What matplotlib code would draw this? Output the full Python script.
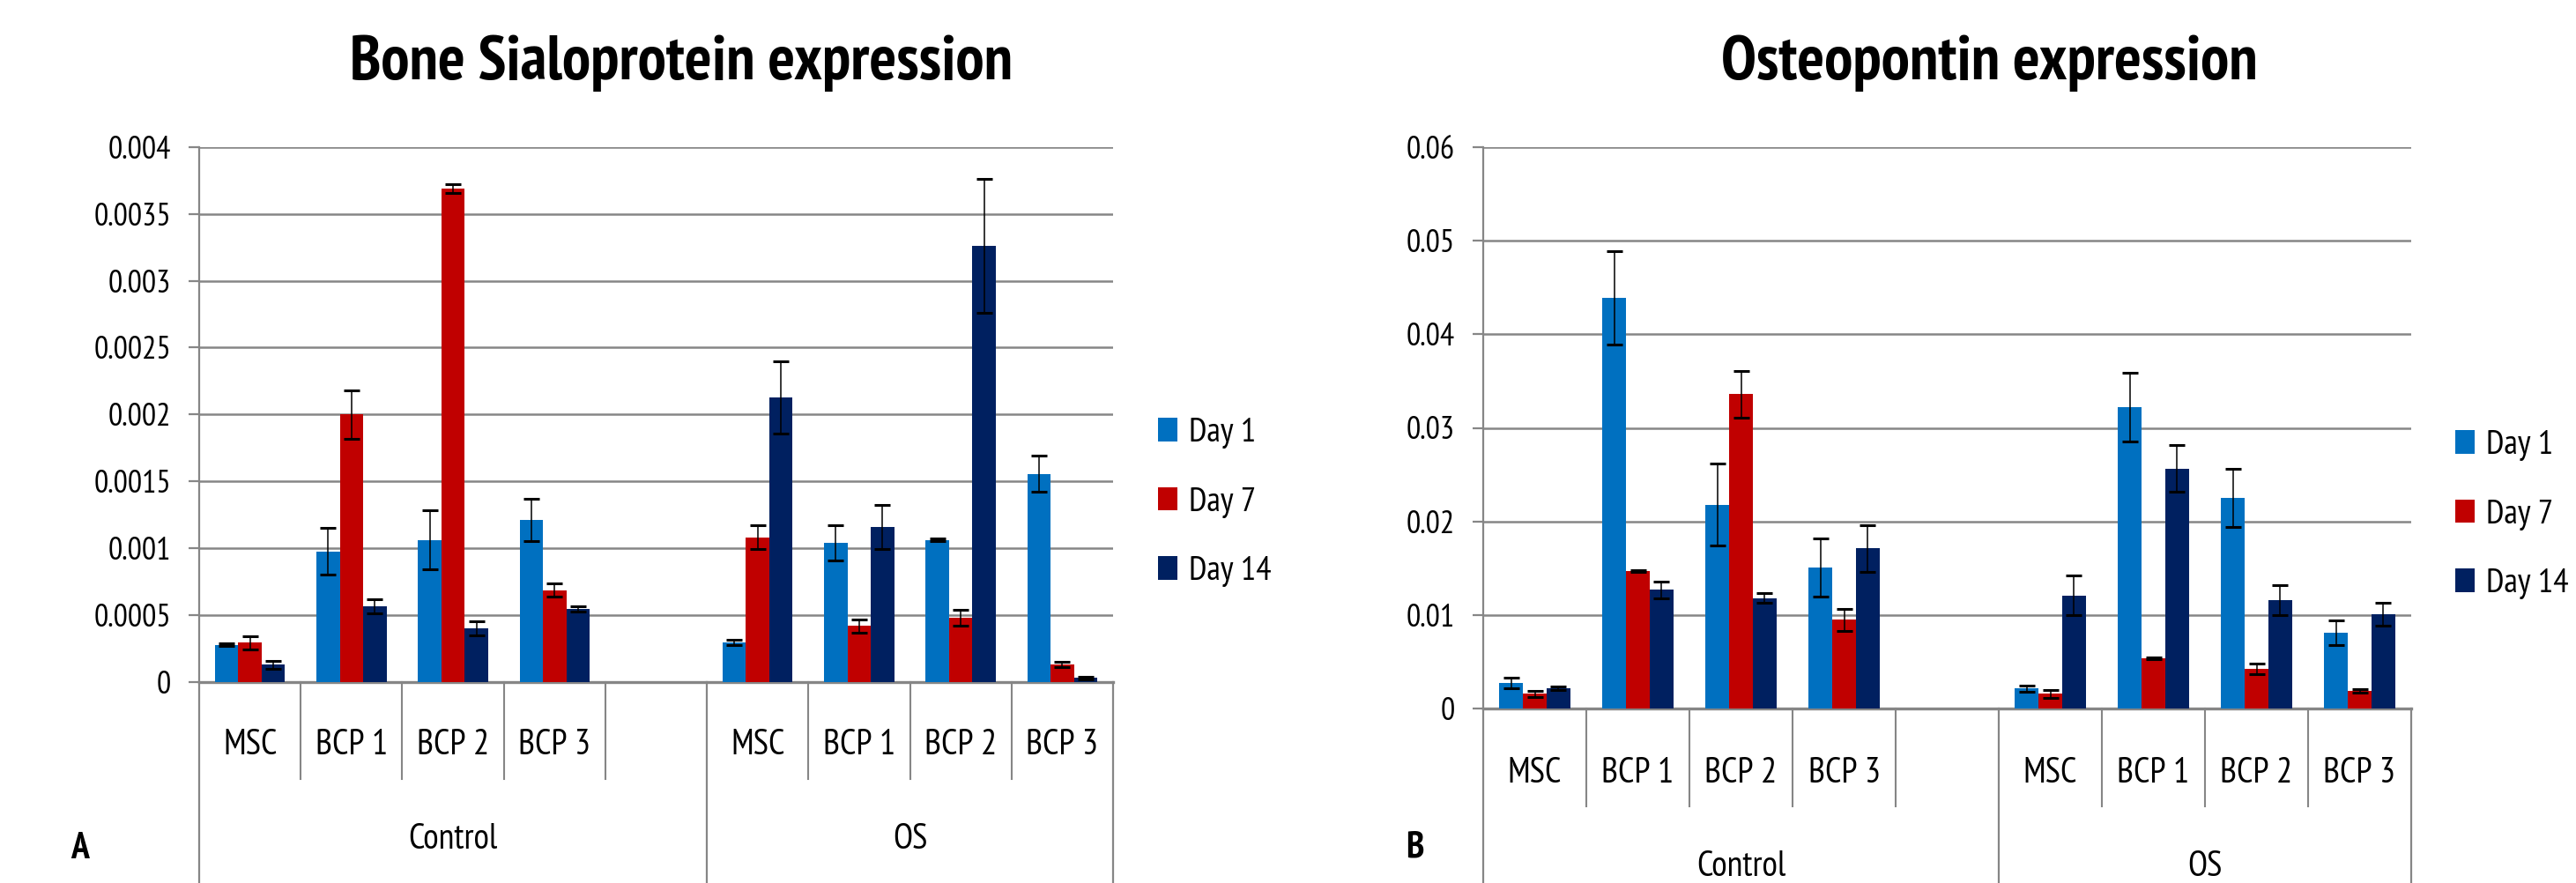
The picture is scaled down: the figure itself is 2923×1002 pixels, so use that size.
import matplotlib
matplotlib.use("Agg")
import matplotlib.pyplot as plt
import numpy as np

plt.rcParams['font.family'] = ['PT Sans Narrow', 'Liberation Sans', 'DejaVu Sans']

groups = ["Control", "OS"]
cells = ["MSC", "BCP 1", "BCP 2", "BCP 3"]
days = ["Day 1", "Day 7", "Day 14"]
colors = ["#0070C0", "#C00000", "#002060"]

# order: Control MSC, BCP1, BCP2, BCP3, OS MSC, BCP1, BCP2, BCP3
bsp_day1 = [0.000275, 0.000975, 0.00106, 0.00121, 0.000295, 0.00104, 0.00106, 0.001555]
bsp_day1_err = [0.00001, 0.000175, 0.00022, 0.00016, 0.00002, 0.00013, 0.00001, 0.000135]
bsp_day7 = [0.000293, 0.002, 0.00369, 0.000685, 0.00108, 0.000418, 0.00048, 0.000128]
bsp_day7_err = [0.00005, 0.00018, 0.00003, 0.00005, 0.00009, 0.00005, 0.00006, 0.00002]
bsp_day14 = [0.000128, 0.000564, 0.0004, 0.000546, 0.00213, 0.00116, 0.00326, 0.00003]
bsp_day14_err = [0.00003, 0.00005, 0.00005, 0.00002, 0.00027, 0.000165, 0.0005, 0.00001]

opn_day1 = [0.00273, 0.0439, 0.0218, 0.01505, 0.00213, 0.0322, 0.02248, 0.00809]
opn_day1_err = [0.0006, 0.005, 0.0044, 0.0031, 0.0003, 0.0037, 0.0031, 0.0013]
opn_day7 = [0.00157, 0.0147, 0.0336, 0.00947, 0.00157, 0.00533, 0.0042, 0.00188]
opn_day7_err = [0.0003, 0.0001, 0.0025, 0.0012, 0.0004, 0.0001, 0.00056, 0.0002]
opn_day14 = [0.00216, 0.0127, 0.0118, 0.0171, 0.0121, 0.02564, 0.01157, 0.01006]
opn_day14_err = [0.0002, 0.0009, 0.0005, 0.0025, 0.0021, 0.0025, 0.0016, 0.0012]

bsp_ticks = [0, 0.0005, 0.001, 0.0015, 0.002, 0.0025, 0.003, 0.0035, 0.004]
opn_ticks = [0, 0.01, 0.02, 0.03, 0.04, 0.05, 0.06]

W, H = 2923, 1002
GRAY = "#868686"
fig = plt.figure(figsize=(W / 100, H / 100), dpi=100)


def px_axes(l, t, r, b):
    return fig.add_axes([l / W, 1 - b / H, (r - l) / W, (b - t) / H])


def panel(ax, y0, ytop, series, errs, ticks, lab_px, leg_px):
    # slots 0-3 control, 4 empty, 5-8 OS
    x = np.array([0, 1, 2, 3, 5, 6, 7, 8])
    w = 0.23
    handles = []
    for i in range(3):
        b = ax.bar(x + (i - 1) * w, series[i], w, color=colors[i], label=days[i], zorder=3)
        ax.errorbar(x + (i - 1) * w, series[i], yerr=errs[i], fmt='none', ecolor='black',
                    elinewidth=1.1, capsize=6.5, capthick=2.2, zorder=4)
        handles.append(b)
    ax.set_xlim(-0.5, 8.5)
    ax.set_ylim(0, ticks[-1])
    ax.set_yticks(ticks)
    ax.set_yticklabels(['{:g}'.format(t) for t in ticks])
    ax.tick_params(axis='y', length=9, width=1.6, color=GRAY, pad=14, labelsize=26)
    ax.set_xticks([])
    ax.yaxis.grid(True, color=GRAY, linewidth=1.8, zorder=0)
    ax.set_axisbelow(True)
    for s in ['top', 'right']:
        ax.spines[s].set_visible(False)
    ax.spines['left'].set_color(GRAY)
    ax.spines['left'].set_linewidth(1.6)
    ax.spines['bottom'].set_color(GRAY)
    ax.spines['bottom'].set_linewidth(2.4)

    def frac(ypx):
        return (y0 - ypx) / (y0 - ytop)

    cat_sep, grp_sep, cat_lab, grp_lab = [frac(v) for v in lab_px]
    tr = ax.get_xaxis_transform()
    for xs in [0.5, 1.5, 2.5, 3.5, 5.5, 6.5, 7.5]:
        ax.plot([xs, xs], [0, cat_sep], color=GRAY, lw=1.5, transform=tr, clip_on=False)
    for xs in [-0.5, 4.5, 8.5]:
        ax.plot([xs, xs], [0, grp_sep], color=GRAY, lw=1.6, transform=tr, clip_on=False)
    for j, xc in enumerate(x):
        ax.text(xc, cat_lab, cells[j % 4], transform=tr, ha='center', va='center', fontsize=29)
    ax.text(2, grp_lab, groups[0], transform=tr, ha='center', va='center', fontsize=29)
    ax.text(6.5, grp_lab, groups[1], transform=tr, ha='center', va='center', fontsize=29)

    ax.legend(handles=handles, loc='upper left', bbox_to_anchor=(leg_px[0] / W, 1 - leg_px[1] / H),
              bbox_transform=fig.transFigure, frameon=False, fontsize=28, borderpad=0,
              borderaxespad=0, handlelength=0.56, handleheight=0.67, handletextpad=0.35,
              labelspacing=1.12)


ax1 = px_axes(226, 167, 1263, 773.6)
panel(ax1, 773.6, 167, [bsp_day1, bsp_day7, bsp_day14], [bsp_day1_err, bsp_day7_err, bsp_day14_err],
      bsp_ticks, (884, 1002, 846, 953), (1314, 474))

ax2 = px_axes(1683, 167, 2736, 804)
panel(ax2, 804, 167, [opn_day1, opn_day7, opn_day14], [opn_day1_err, opn_day7_err, opn_day14_err],
      opn_ticks, (915, 1002, 877, 983), (2786, 488))

fig.text(773 / W, 1 - 72 / H, "Bone Sialoprotein expression", ha='center', va='center',
         fontsize=52, fontweight='bold')
fig.text(2257 / W, 1 - 72 / H, "Osteopontin expression", ha='center', va='center',
         fontsize=52, fontweight='bold')
fig.text(91 / W, 1 - 963 / H, "A", ha='center', va='center', fontsize=30, fontweight='bold')
fig.text(1605 / W, 1 - 962 / H, "B", ha='center', va='center', fontsize=30, fontweight='bold')

fig.savefig("out.png", dpi=100, facecolor='white')
